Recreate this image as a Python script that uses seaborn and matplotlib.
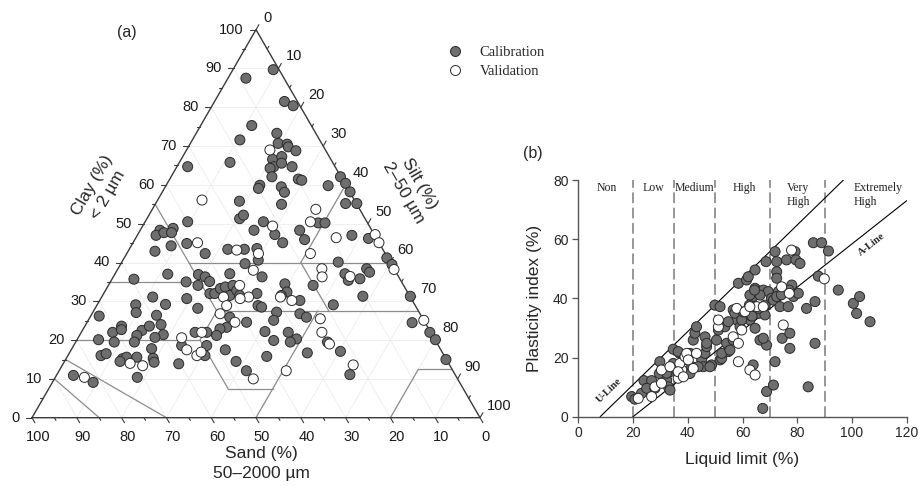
import numpy as np
import pandas as pd
import matplotlib
matplotlib.use("Agg")
import matplotlib.pyplot as plt
import seaborn as sns
from matplotlib.lines import Line2D

sns.set_theme(style="white")
plt.rcParams["font.family"] = ["Liberation Sans", "DejaVu Sans"]

# =========================
# Data: (a) texture triangle, clay and silt in %
# =========================
cal_clay = [
    87.5, 89.7, 81.5, 80.4, 75.3, 71.6, 73.3, 70.7, 70.5, 69.8, 68.8, 65.8, 64.7,
    66.6, 67.3, 64.7, 65.6, 64.3, 64.7, 62.1, 61.5, 61.2, 59.9, 59.1, 59.5, 58.1,
    55.0, 55.8, 51.3, 52.2, 50.5, 50.5, 48.3, 47.2, 45.1, 48.3, 45.9, 62.1, 60.4,
    58.2, 59.8, 55.2, 55.2, 50.2, 50.2, 47.0, 46.2, 48.3, 47.0, 47.7, 48.8, 47.7,
    44.9,
    42.9, 44.3, 43.4, 43.4, 35.7, 37.0, 35.0, 36.9, 34.1, 31.1, 29.1, 27.1, 29.2,
    30.7, 28.2, 26.2, 23.6, 22.0, 22.7, 22.5, 23.6, 26.4, 24.0, 21.4, 20.7, 21.2,
    19.5, 19.5, 20.1, 16.0, 16.5, 15.2, 15.6, 14.5, 15.6, 17.8, 15.3, 14.3, 10.4,
    13.9, 10.9, 9.1, 22.0, 18.6, 16.0, 17.5, 14.5, 12.1, 18.6,
    42.3, 36.3, 35.1, 39.7, 43.6, 40.6, 36.3, 37.1, 32.0, 32.0, 33.3, 33.7, 31.5,
    34.1, 32.8, 31.5, 32.0, 28.9, 28.5, 24.6, 23.3, 25.9, 22.9, 21.2, 27.2, 25.1,
    26.8, 25.9, 34.5, 32.4, 31.5, 30.2, 34.1, 29.1, 40.1, 37.1, 22.2, 19.9, 22.0,
    20.3, 19.5, 22.0,
    35.4, 35.8, 38.4, 37.5, 31.3, 41.2, 39.5, 31.3, 24.5, 22.0, 20.1, 15.0, 11.1,
    17.1, 19.5, 16.7, 15.8,
]
cal_silt = [
    4.0, 9.0, 15.6, 18.1, 11.4, 10.6, 18.0, 19.6, 21.7, 22.3, 24.5, 11.3, 2.4,
    20.4, 22.1, 21.6, 22.9, 21.0, 25.7, 22.5, 28.7, 29.6, 20.9, 21.0, 25.9, 27.3,
    28.2, 18.4, 20.7, 21.1, 9.5, 26.4, 25.4, 30.6, 33.4, 35.6, 37.9, 37.8, 39.8,
    41.9, 36.2, 42.4, 44.9, 38.8, 40.3, 47.9, 52.0, 4.4, 4.2, 5.6, 7.1, 7.3,
    12.1,
    6.0, 8.9, 22.0, 25.7, 4.9, 11.8, 16.9, 18.7, 20.0, 11.4, 8.6, 9.7, 15.2,
    19.2, 22.9, 1.9, 8.2, 7.0, 8.6, 13.3, 14.4, 14.6, 16.8, 18.6, 17.1, 12.8,
    13.1, 8.6, 4.8, 7.4, 8.3, 12.6, 13.3, 12.4, 15.6, 17.8, 19.4, 20.1, 18.3,
    25.8, 3.8, 9.1, 25.4, 24.1, 30.6, 34.4, 38.3, 41.8, 29.7,
    17.5, 20.5, 22.1, 27.7, 28.4, 30.2, 33.2, 25.6, 23.7, 24.8, 25.4, 26.3, 28.4,
    27.8, 29.3, 30.6, 34.2, 36.0, 37.0, 35.6, 31.8, 31.2, 30.5, 30.6, 41.0, 41.4,
    46.4, 48.3, 39.2, 40.7, 39.9, 44.7, 45.7, 52.7, 48.3, 51.3, 40.9, 44.0, 46.2,
    48.9, 47.9, 28.0,
    52.9, 55.3, 55.5, 56.6, 58.2, 58.6, 60.6, 68.8, 72.6, 77.8, 80.0, 84.9, 65.4,
    60.3, 56.2, 53.1, 44.5,
]
val_clay = [
    69.0, 56.1, 53.7, 50.5, 46.4, 47.2, 45.1, 49.4, 45.1, 10.4, 14.0, 13.4, 20.6,
    17.5, 16.0, 16.9, 10.0, 43.2, 42.3, 38.0, 34.1, 31.1, 30.7, 31.1, 28.9, 26.8,
    24.6, 31.1, 30.2, 42.3, 38.4, 36.3, 25.5, 22.0, 36.4, 38.2, 25.1, 19.0, 12.1,
    13.6, 22.0,
]
val_silt = [
    18.6, 9.9, 36.5, 36.9, 44.7, 53.0, 54.9, 29.0, 14.4, 6.5, 14.9, 18.0, 23.1,
    25.8, 28.8, 29.3, 44.4, 24.1, 29.4, 30.4, 29.3, 32.8, 31.1, 27.2, 29.0, 28.6,
    33.0, 39.9, 42.9, 41.0, 45.5, 46.6, 51.6, 53.7, 52.8, 61.7, 74.9, 56.9, 50.7,
    64.9, 26.9,
]

# USDA texture class boundaries as (clay, silt) end points
usda_lines = [
    ((40, 15), (40, 60)), ((55, 0), (40, 15)), ((35, 0), (35, 20)),
    ((40, 15), (27.5, 27.5)), ((40, 40), (60, 40)), ((40, 40), (27.5, 52.5)),
    ((27.5, 27.5), (27.5, 72.5)), ((20, 0), (20, 27.5)), ((20, 27.5), (27.5, 27.5)),
    ((20, 27.5), (7.5, 40)), ((7.5, 40), (7.5, 50)), ((0, 50), (27.5, 50)),
    ((0, 80), (12.5, 80)), ((12.5, 80), (12.5, 87.5)), ((15, 0), (0, 30)),
    ((10, 0), (0, 15)),
]

# =========================
# Data: (b) plasticity chart, liquid limit / plasticity index in %
# =========================
cal_ll = [
    19.5, 20.7, 23.1, 24.0, 26.8, 25.0, 28.0, 29.6, 29.8, 32.3, 32.9, 33.5, 34.7,
    34.7, 35.9, 37.1, 38.4, 40.8, 41.4, 42.0, 42.6, 43.2, 45.1, 45.7, 46.3, 46.3,
    46.9, 48.7, 49.9, 51.8, 50.5, 51.2, 51.8, 52.4, 53.6, 54.2, 54.8, 56.6, 56.6,
    57.9, 58.5, 59.1, 60.3, 61.5, 62.1, 62.7, 63.3, 63.9, 64.6, 64.6, 64.6, 65.8,
    65.8, 66.4, 67.6, 68.2, 68.8, 68.8, 68.2, 69.4, 68.6, 70.6, 71.3, 71.9, 72.5,
    72.5, 71.9, 71.3, 73.1, 73.7, 74.5, 76.1, 76.1, 76.7, 77.3, 77.3, 78.0, 78.6,
    79.2, 79.5, 80.4, 81.0, 83.4, 84.0, 85.9, 86.5, 86.5, 87.7, 88.9, 91.4, 95.0,
    100.5, 101.7, 102.8, 106.6, 67.4,
    32.3, 33.5, 36.5, 39.0, 40.8, 43.8, 46.9, 48.1, 52.4, 55.4, 54.8, 62.7, 66.4,
    65.8, 67.6, 62.7, 57.2, 72.5, 63.9, 63.5, 72.5, 64.4, 62.5, 59.7, 60.3, 74.2,
    77.0,
]
cal_pi = [
    6.8, 5.9, 7.9, 12.2, 12.2, 9.6, 9.6, 14.6, 18.6, 12.4, 10.1, 15.2, 18.0,
    22.8, 15.8, 21.4, 19.2, 14.6, 16.9, 25.9, 28.2, 30.4, 19.2, 16.9, 21.4, 27.0,
    23.7, 17.5, 37.7, 37.2, 25.9, 29.3, 19.2, 19.7, 30.4, 24.8, 22.0, 25.9, 36.1,
    32.7, 45.1, 30.4, 33.8, 46.2, 47.3, 32.7, 38.3, 40.6, 49.6, 43.4, 29.9, 42.3,
    34.9, 25.9, 42.8, 34.4, 24.2, 8.5, 37.7, 42.3, 52.4, 40.0, 39.4, 55.8, 52.4,
    49.0, 18.6, 10.7, 42.3, 37.2, 26.5, 42.3, 53.0, 37.2, 28.2, 23.1, 44.5, 40.6,
    55.8, 53.0, 41.7, 51.8, 36.6, 10.1, 58.8, 38.9, 24.8, 47.5, 58.8, 56.0, 42.8,
    38.3, 34.9, 40.6, 32.1, 2.8,
    14.7, 9.0, 22.0, 20.3, 21.4, 16.9, 24.8, 16.9, 21.4, 22.5, 32.1, 34.3, 41.1,
    36.6, 26.5, 41.1, 35.0, 46.8, 17.5, 34.0, 40.6, 42.8, 37.7, 32.7, 35.4, 41.2,
    42.8,
]
val_ll = [
    21.9, 26.8, 28.0, 30.4, 30.4, 33.5, 36.5, 37.8, 37.1, 39.0, 39.6, 40.2, 42.0,
    43.2, 51.2, 51.2, 56.6, 57.9, 58.5, 58.5, 59.7, 60.9, 62.7, 64.6, 65.2, 74.3,
    74.9, 77.1, 77.9, 89.9, 62.7, 67.6, 36.5, 38.4,
]
val_pi = [
    6.2, 6.8, 10.1, 15.8, 11.3, 16.9, 13.0, 15.8, 18.0, 20.3, 21.4, 19.2, 16.3,
    21.4, 30.4, 32.7, 27.0, 36.6, 24.8, 18.6, 29.3, 35.5, 15.8, 14.1, 37.2, 43.9,
    31.0, 41.7, 56.3, 46.6, 37.2, 37.2, 15.2, 13.5,
]

class_bounds = [20, 35, 50, 70, 90]
class_names = ["Non", "Low", "Medium", "High", "Very\nHigh", "Extremely\nHigh"]
class_ll = [10.4, 27.4, 42.3, 60.5, 76.1, 100.5]

GRAY = "#6e6e6e"
EDGE = "#2a2a2a"
palette = {"Calibration": GRAY, "Validation": "white"}
SQ3 = np.sqrt(3) / 2


def tern_xy(clay, silt):
    clay = np.asarray(clay, dtype=float)
    silt = np.asarray(silt, dtype=float)
    return silt + clay / 2, clay * SQ3


df_a = pd.DataFrame({
    "clay": cal_clay + val_clay,
    "silt": cal_silt + val_silt,
    "set": ["Calibration"] * len(cal_clay) + ["Validation"] * len(val_clay),
})
df_a["sand"] = 100 - df_a["clay"] - df_a["silt"]
df_a["x"], df_a["y"] = tern_xy(df_a["clay"], df_a["silt"])

df_b = pd.DataFrame({
    "ll": cal_ll + val_ll,
    "pi": cal_pi + val_pi,
    "set": ["Calibration"] * len(cal_ll) + ["Validation"] * len(val_ll),
})

fig = plt.figure(figsize=(9.19, 4.86), dpi=100)

# =========================
# (a) Ternary texture diagram
# =========================
ax_a = fig.add_axes([32 / 919, (486 - 417.7) / 486, 448 / 919, 388 / 486])
ax_a.set_xlim(0, 100)
ax_a.set_ylim(0, 100 * SQ3)
ax_a.axis("off")

# faint grid
for v in range(10, 100, 10):
    for a, b in [((v, 0), (v, 100 - v)), ((0, v), (100 - v, v)),
                 ((0, 100 - v), (100 - v, 0))]:
        xs, ys = tern_xy([a[0], b[0]], [a[1], b[1]])
        ax_a.plot(xs, ys, color="#ececec", lw=0.6, zorder=0)

for a, b in usda_lines:
    xs, ys = tern_xy([a[0], b[0]], [a[1], b[1]])
    ax_a.plot(xs, ys, color="#8c8c8c", lw=0.9, zorder=1)

xs, ys = tern_xy([0, 100, 0, 0], [0, 0, 100, 0])
ax_a.plot(xs, ys, color="#3a3a3a", lw=1.0, zorder=2, clip_on=False)

tick_kw = dict(color="#3a3a3a", lw=0.8, clip_on=False)
lab_kw = dict(fontsize=10.5, color="#1a1a1a")
for v in range(0, 101, 5):
    L = 1.3 if v % 10 == 0 else 0.7
    # clay, left edge
    cx, cy = tern_xy(v, 0)
    ax_a.plot([cx, cx - L], [cy, cy], **tick_kw)
    # silt, right edge
    sx, sy = tern_xy(100 - v, v)
    ax_a.plot([sx, sx + 0.5 * L], [sy, sy + SQ3 * L], **tick_kw)
    # sand, bottom edge
    bx = 100 - v
    ax_a.plot([bx, bx + 0.5 * L], [0, -SQ3 * L], **tick_kw)
    if v % 10 == 0:
        ax_a.text(cx - 2.7, cy, f"{v}", ha="right", va="center", **lab_kw)
        ax_a.text(sx + 1.6, sy + 2.7, f"{v}", ha="left", va="center", **lab_kw)
        ax_a.text(bx + 1.3, -4.2, f"{v}", ha="center", va="center", **lab_kw)

sns.scatterplot(
    data=df_a, x="x", y="y", hue="set", palette=palette,
    edgecolor=EDGE, linewidth=0.7, s=52, legend=False,
    ax=ax_a, zorder=4, clip_on=False,
)
ax_a.set_xlabel("")
ax_a.set_ylabel("")

ax_a.text(15.2, 50.8, "Clay (%)\n< 2 µm", rotation=60, ha="center",
          va="center", fontsize=12.5, linespacing=1.3)
ax_a.text(84.8, 51.2, "Silt (%)\n2–50 µm", rotation=-60, ha="center",
          va="center", fontsize=12.5, linespacing=1.3)
ax_a.text(51.3, -10.3, "Sand (%)\n50–2000 µm", ha="center", va="center",
          fontsize=12.5, linespacing=1.4)
fig.text(127 / 919, 1 - 32 / 486, "(a)", ha="center", va="center", fontsize=11.5)

handles = [
    Line2D([], [], ls="", marker="o", ms=7.2, mfc=GRAY, mec=EDGE, mew=0.7),
    Line2D([], [], ls="", marker="o", ms=7.2, mfc="white", mec=EDGE, mew=0.7),
]
fig.legend(
    handles, ["Calibration", "Validation"], loc="center left",
    bbox_to_anchor=(440 / 919, 1 - 62 / 486), frameon=False,
    borderpad=0, handlelength=1.0, handletextpad=1.2, labelspacing=0.42,
    prop={"family": ["Liberation Serif", "DejaVu Serif"], "size": 10.5},
)

# =========================
# (b) Plasticity chart
# =========================
ax_b = fig.add_axes([578.3 / 919, (486 - 416.7) / 486, 328.4 / 919, 236.7 / 486])

for b in class_bounds:
    ax_b.axvline(b, color="#7a7a7a", lw=1.1, ls=(0, (7, 3)), zorder=1)

u_ll = np.array([8, 96.9])
ax_b.plot(u_ll, 0.9 * (u_ll - 8), color="black", lw=0.8, zorder=2)
a_ll = np.array([20, 120])
ax_b.plot(a_ll, 0.73 * (a_ll - 20), color="black", lw=0.8, zorder=2)

sns.scatterplot(
    data=df_b, x="ll", y="pi", hue="set", palette=palette,
    edgecolor=EDGE, linewidth=0.7, s=52, legend=False,
    ax=ax_b, zorder=4, clip_on=False,
)

serif = ["Liberation Serif", "DejaVu Serif"]
for name, xpos in zip(class_names, class_ll):
    ha = "left" if "\n" in name else "center"
    ax_b.text(xpos, 79.4, name, ha=ha, va="top", fontsize=8.5, family=serif,
              linespacing=1.2, color="#222222")
ax_b.text(11.2, 8.8, "U-Line", rotation=44, ha="center", va="center",
          fontsize=7.5, family=serif, weight="bold", rotation_mode="anchor")
ax_b.text(107, 58.3, "A-Line", rotation=38, ha="center", va="center",
          fontsize=7.5, family=serif, weight="bold", rotation_mode="anchor")

ax_b.set_xlim(0, 120)
ax_b.set_ylim(0, 80)
ax_b.set_xticks(range(0, 121, 20))
ax_b.set_yticks(range(0, 81, 20))
for side in ["top", "right"]:
    ax_b.spines[side].set_visible(False)
for side in ["left", "bottom"]:
    ax_b.spines[side].set_color("#555555")
    ax_b.spines[side].set_linewidth(1.0)
ax_b.tick_params(axis="both", direction="out", length=4, width=0.9,
                 color="#555555", labelsize=10, pad=3,
                 bottom=True, left=True)
ax_b.set_xlabel("Liquid limit (%)", fontsize=12.5, labelpad=8)
ax_b.set_ylabel("Plasticity index (%)", fontsize=12.5, labelpad=8)
fig.text(533 / 919, 1 - 153 / 486, "(b)", ha="center", va="center", fontsize=11.5)

fig.savefig("out.png", dpi=100)
plt.close(fig)
